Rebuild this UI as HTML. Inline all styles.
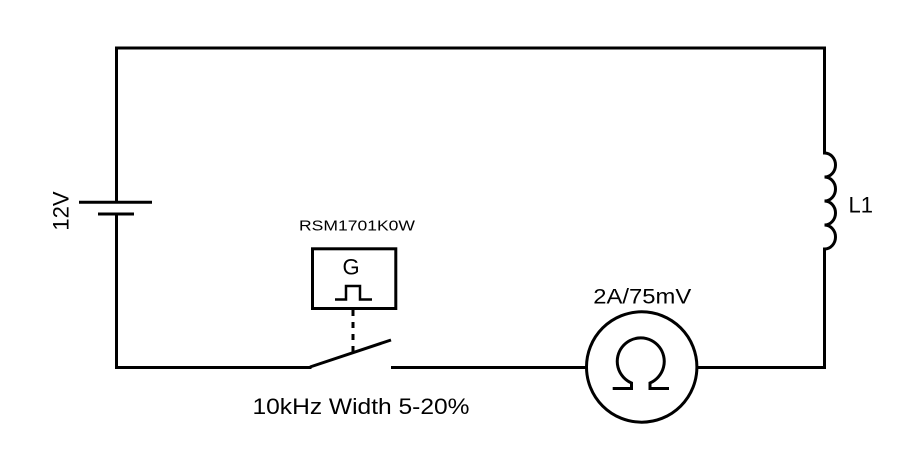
<!DOCTYPE html>
<html>
<head>
<meta charset="utf-8">
<style>
  html, body { margin: 0; padding: 0; background: #fff; }
  svg { display: block; }
  text { font-family: "Liberation Sans", Arial, sans-serif; fill: #000; }
</style>
</head>
<body>
<svg width="923" height="469" viewBox="0 0 923 469" xmlns="http://www.w3.org/2000/svg">
  <rect width="923" height="469" fill="#fff"/>
  <g fill="none" stroke="#000" stroke-width="3">
    <!-- top wire and left/right verticals -->
    <path d="M116.5 202 V48 H824.5 V153" stroke-linecap="square"/>
    <!-- inductor bumps -->
    <path d="M824.5 153 A11 12 0 0 1 824.5 177 A11 12 0 0 1 824.5 201 A11 12 0 0 1 824.5 225 A11 12 0 0 1 824.5 249"/>
    <path d="M824.5 249 V367.5 H697" stroke-linecap="square"/>
    <!-- battery -->
    <line x1="79" y1="202.3" x2="152" y2="202.3"/>
    <line x1="98" y1="214" x2="134" y2="214"/>
    <path d="M116.5 214 V367.5 H310" stroke-linecap="square"/>
    <!-- switch -->
    <line x1="310" y1="367" x2="391" y2="340"/>
    <line x1="391" y1="367.5" x2="586.5" y2="367.5"/>
    <!-- dashed link -->
    <line x1="353" y1="310" x2="353" y2="354" stroke-dasharray="6 6"/>
    <!-- generator box -->
    <rect x="312.5" y="248.8" width="83.3" height="59.7"/>
    <path d="M335 299.5 H346 V286 H360 V299.5 H372" stroke-width="2.5"/>
    <!-- ohm meter -->
    <circle cx="641.7" cy="367" r="55.2"/>
    <path d="M612.7 388.5 H631.5 V383 A23.5 23.5 0 1 1 650 383 V388.5 H669"/>
  </g>
  <!-- labels -->
  <text x="0" y="0" font-size="22" text-anchor="middle" transform="translate(68.3 211) rotate(-90)">12V</text>
  <text x="299" y="230.7" font-size="15" textLength="116" lengthAdjust="spacingAndGlyphs">RSM1701K0W</text>
  <text x="351" y="274.3" font-size="22" text-anchor="middle">G</text>
  <text x="593.3" y="303.3" font-size="21" textLength="98" lengthAdjust="spacingAndGlyphs">2A/75mV</text>
  <text x="252.5" y="414" font-size="22" textLength="217" lengthAdjust="spacingAndGlyphs">10kHz Width 5-20%</text>
  <text x="848.5" y="212.5" font-size="22">L1</text>
</svg>
</body>
</html>
